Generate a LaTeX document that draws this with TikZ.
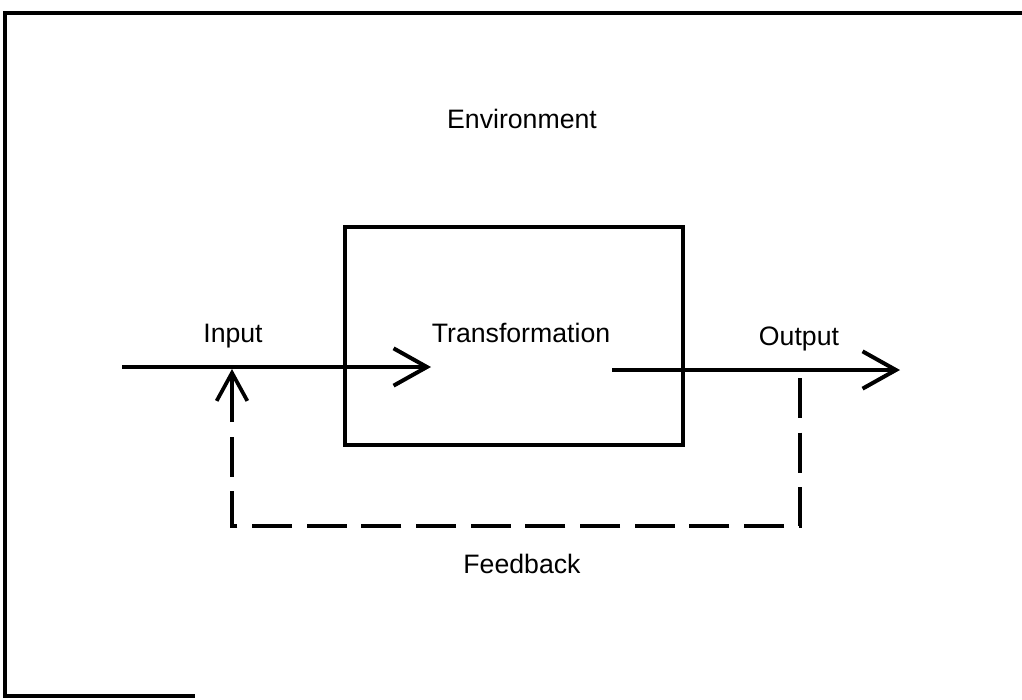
\documentclass[tikz,border=0pt]{standalone}
\usepackage{fontspec}
\setmainfont{Liberation Sans}
\usetikzlibrary{arrows.meta}
\begin{document}
\begin{tikzpicture}[x=0.75pt,y=-0.75pt,
  lbl/.style={font=\fontsize{20}{24}\selectfont, inner sep=0pt, anchor=base},
  flow/.style={line width=3pt, -{Straight Barb[length=25pt,width=28pt,line width=3pt]}},
  fb/.style={line width=2.8pt, dash pattern=on 30pt off 11pt},
  fbarrow/.style={line width=2.8pt, -{Straight Barb[length=21pt,width=23pt,line width=2.8pt]}}]
\useasboundingbox (0,0) rectangle (1022,700);
% frame
\draw[line width=3.2pt] (1022,13) -- (5,13) -- (5,696) -- (195,696);
% transformation box
\draw[line width=3pt] (345,227) rectangle (683,445);
\coordinate (box) at (514,336);
% labels
\node[lbl] (env) at (522,128) {Environment};
\node[lbl] (inl) at (233,342) {Input};
\node[lbl] (trl) at (521,342) {Transformation};
\node[lbl] (outl) at (799,345) {Output};
\node[lbl] (fbl) at (522,573) {Feedback};
% coordinates
\coordinate (in0) at (122,367);
\coordinate (in1) at (431,367);
\coordinate (out0) at (612,370);
\coordinate (out1) at (900,370);
\coordinate (f0) at (800,378);
\coordinate (f1) at (800,526);
\coordinate (f2) at (232,526);
\coordinate (f3) at (232,369);
% arrows
\draw[flow] (in0) -- (in1);
\draw[flow] (out0) -- (out1);
\draw[fb] (f0) -- (f1) -- (f2) -- (232,400);
\draw[fbarrow] (232,420) -- (f3);
\end{tikzpicture}
\end{document}
